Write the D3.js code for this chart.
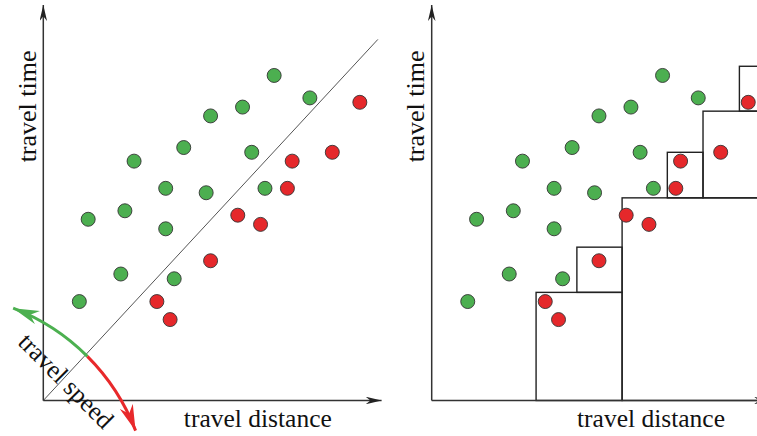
<!DOCTYPE html>
<html>
<head>
<meta charset="utf-8">
<script src="https://cdn.jsdelivr.net/npm/d3@7"></script>
<style>
  html, body { margin: 0; padding: 0; background: #fff; }
  svg { display: block; }
</style>
</head>
<body>
<svg id="chart" width="757" height="436"></svg>
<script>
// ---------- data (units: 0..100 along each axis) ----------
const greenX = [10.6, 13.2, 22.8, 24.0, 26.7, 36.0, 36.0, 38.5, 41.3, 47.9, 49.2, 58.6, 61.3, 65.2, 67.9, 78.4];
const greenY = [29.1, 53.3, 37.2, 55.8, 70.4, 62.4, 50.5, 35.8, 74.4, 61.1, 83.7, 86.3, 73.0, 62.4, 95.6, 89.0];
const redX   = [33.4, 37.3, 49.2, 57.2, 63.9, 71.8, 73.2, 85.0, 93.1];
const redY   = [29.1, 23.8, 41.1, 54.5, 51.8, 62.4, 70.4, 73.0, 87.7];

// diagonal "travel speed" threshold line end
const lineEnd = [98.4, 106.2];

// boxes of the right panel: [x0, x1, y0, y1]
const boxX0 = [30.7, 42.7, 56.0, 69.3, 79.8, 90.5];
const boxX1 = [56.0, 56.0, 100, 79.8, 100, 100];
const boxY0 = [0, 31.8, 0, 59.6, 59.6, 85.1];
const boxY1 = [31.8, 45.1, 59.6, 73.0, 85.1, 98.3];

const labelX = "travel distance";
const labelY = "travel time";
const labelSpeed = "travel speed";

// speed arc (centre on the diagonal, angles in degrees)
const arcCentre = [-31.3, -31.3];
const arcRadius = 62.6;
const arcAngles = { mid: 45, green: 69, red: 21 };

const greenFill = "#4caf50", redFill = "#e5282b";

// ---------- drawing ----------
const svg = d3.select("#chart");
const defs = svg.append("defs");

function stealth(id, color, len, half) {
  defs.append("marker")
    .attr("id", id).attr("markerUnits", "userSpaceOnUse")
    .attr("viewBox", `0 ${-half} ${len} ${2*half}`)
    .attr("refX", len).attr("refY", 0)
    .attr("markerWidth", len).attr("markerHeight", 2*half)
    .attr("orient", "auto")
    .append("path")
    .attr("d", `M0,${-half} L${len},0 L0,${half} L${len*0.3},0 Z`)
    .attr("fill", color);
}
stealth("axArrow", "#222", 16, 3.8);
stealth("gArrow", "#4cb050", 26, 7);
stealth("rArrow", "#e8292b", 26, 7);

const S = 3.4;          // px per unit
const originY = 400.5;

function panel(originX, showRight) {
  const x = d3.scaleLinear().domain([0, 100]).range([originX, originX + 100 * S]);
  const y = d3.scaleLinear().domain([0, 100]).range([originY, originY - 100 * S]);
  const g = svg.append("g");

  // points
  const pts = greenX.map((v, i) => ({x: v, y: greenY[i], c: greenFill}))
    .concat(redX.map((v, i) => ({x: v, y: redY[i], c: redFill})));

  if (showRight) {
    g.selectAll("rect.box").data(boxX0.map((v, i) => i)).enter().append("rect")
      .attr("x", i => x(boxX0[i]))
      .attr("y", i => y(boxY1[i]))
      .attr("width", i => x(boxX1[i]) - x(boxX0[i]))
      .attr("height", i => y(boxY0[i]) - y(boxY1[i]))
      .attr("fill", "none").attr("stroke", "#222").attr("stroke-width", 1.4);
  } else {
    g.append("line")
      .attr("x1", x(0)).attr("y1", y(0))
      .attr("x2", x(lineEnd[0])).attr("y2", y(lineEnd[1]))
      .attr("stroke", "#555").attr("stroke-width", 1);
  }

  // axes
  g.append("line").attr("x1", x(0)).attr("y1", y(0)).attr("x2", x(0)).attr("y2", y(116.3))
    .attr("stroke", "#333").attr("stroke-width", 1.5).attr("marker-end", "url(#axArrow)");
  g.append("line").attr("x1", x(0)).attr("y1", y(0)).attr("x2", x(99.5)).attr("y2", y(0))
    .attr("stroke", "#333").attr("stroke-width", 1.5).attr("marker-end", "url(#axArrow)");

  g.selectAll("circle").data(pts).enter().append("circle")
    .attr("cx", d => x(d.x)).attr("cy", d => y(d.y)).attr("r", 7)
    .attr("fill", d => d.c).attr("stroke", "#333").attr("stroke-width", 0.9);

  const font = "'Liberation Serif', 'Times New Roman', serif";
  g.append("text")
    .attr("transform", `translate(${x(-2.2)},${y(86.5)}) rotate(-90)`)
    .attr("text-anchor", "middle").attr("font-family", font).attr("font-size", 26)
    .attr("fill", "#111").text(labelY);
  g.append("text")
    .attr("x", x(showRight ? 64.5 : 63.1)).attr("y", 427)
    .attr("text-anchor", "middle").attr("font-family", font).attr("font-size", 25.5)
    .attr("fill", "#111").text(labelX);

  if (!showRight) {
    const rad = d => d * Math.PI / 180;
    const pt = a => [x(arcCentre[0] + arcRadius * Math.cos(rad(a))), y(arcCentre[1] + arcRadius * Math.sin(rad(a)))];
    const R = arcRadius * S;
    const m = pt(arcAngles.mid), ge = pt(arcAngles.green), re = pt(arcAngles.red);
    g.append("path").attr("d", `M${m[0]},${m[1]} A${R},${R} 0 0 0 ${ge[0]},${ge[1]}`)
      .attr("fill", "none").attr("stroke", "#4cb050").attr("stroke-width", 3)
      .attr("marker-end", "url(#gArrow)");
    g.append("path").attr("d", `M${m[0]},${m[1]} A${R},${R} 0 0 1 ${re[0]},${re[1]}`)
      .attr("fill", "none").attr("stroke", "#e8292b").attr("stroke-width", 3)
      .attr("marker-end", "url(#rArrow)");
    g.append("text")
      .attr("transform", `translate(${x(4.9)},${y(4.0)}) rotate(45)`)
      .attr("text-anchor", "middle").attr("font-family", font).attr("font-size", 25.5)
      .attr("fill", "#111").text(labelSpeed);
  }
}

panel(43.3, false);
panel(431.7, true);
</script>
</body>
</html>
